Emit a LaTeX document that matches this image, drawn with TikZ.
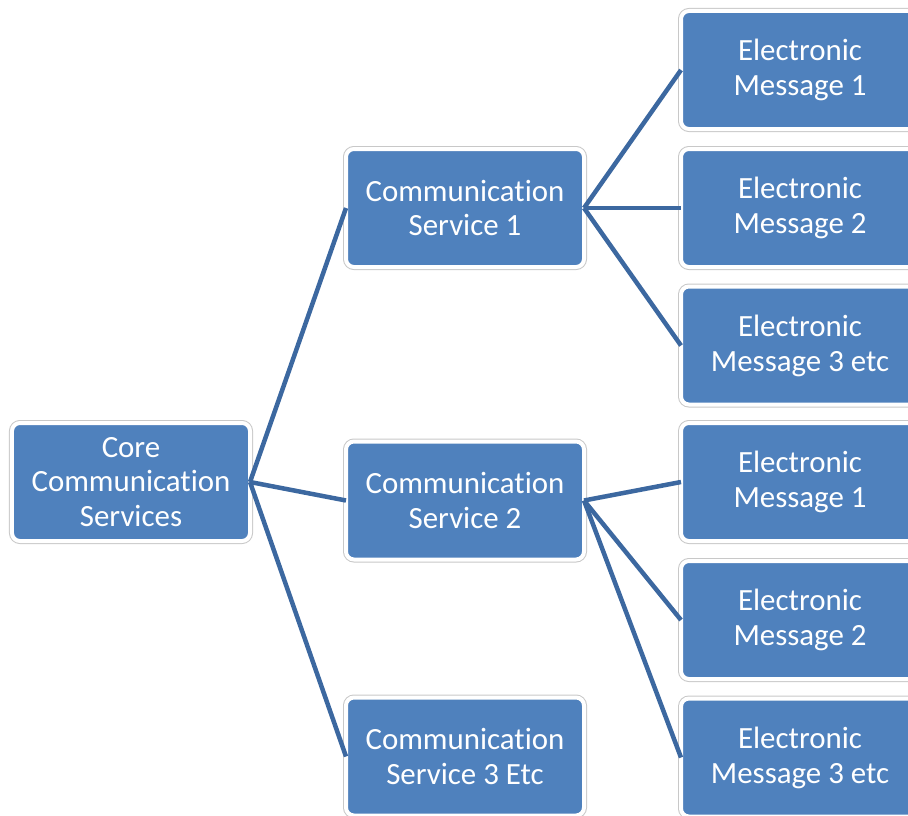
\documentclass[tikz,border=0pt]{standalone}
\usepackage{fontspec}
\setmainfont{Carlito}[Ligatures=NoCommon]
\usepackage{tikz}
\usetikzlibrary{positioning}

\definecolor{boxblue}{RGB}{79,129,189}
\definecolor{linkblue}{RGB}{60,104,160}
\definecolor{rimgray}{RGB}{200,200,200}

\begin{document}
\begin{tikzpicture}
    [
    x=1bp,y=-1bp,
    box/.style={rectangle,rounded corners=8bp,fill=boxblue,draw=white,line width=4bp,
      preaction={draw=rimgray,line width=6bp},
      minimum width=238bp,minimum height=118bp,inner sep=0pt,outer sep=0pt,
      text=white,align=center,font=\fontsize{31}{35}\selectfont},
    link/.style={draw=linkblue,line width=4.5bp},
    ]
    \path [use as bounding box,clip] (0,0) rectangle (908,816);

    \node (core) at (131,482) [box] {Core\\Communication\\Services};

    \node (cs1) at (465,208) [box] {Communication\\Service 1};
    \node (cs2) at (465,500.5) [box] {Communication\\Service 2};
    \node (cs3) at (465,756.5) [box] {Communication\\Service 3 Etc};

    \node (em11) at (800,70) [box] {Electronic\\Message 1};
    \node (em12) at (800,208) [box] {Electronic\\Message 2};
    \node (em13) at (800,345.5) [box] {Electronic\\Message 3 etc};
    \node (em21) at (800,482) [box] {Electronic\\Message 1};
    \node (em22) at (800,620) [box] {Electronic\\Message 2};
    \node (em23) at (800,757.5) [box] {Electronic\\Message 3 etc};

    \draw [link] (core.east) to (cs1.west);
    \draw [link] (core.east) to (cs2.west);
    \draw [link] (core.east) to (cs3.west);

    \draw [link] (cs1.east) to (em11.west);
    \draw [link] (cs1.east) to (em12.west);
    \draw [link] (cs1.east) to (em13.west);

    \draw [link] (cs2.east) to (em21.west);
    \draw [link] (cs2.east) to (em22.west);
    \draw [link] (cs2.east) to (em23.west);
  \end{tikzpicture}
\end{document}
